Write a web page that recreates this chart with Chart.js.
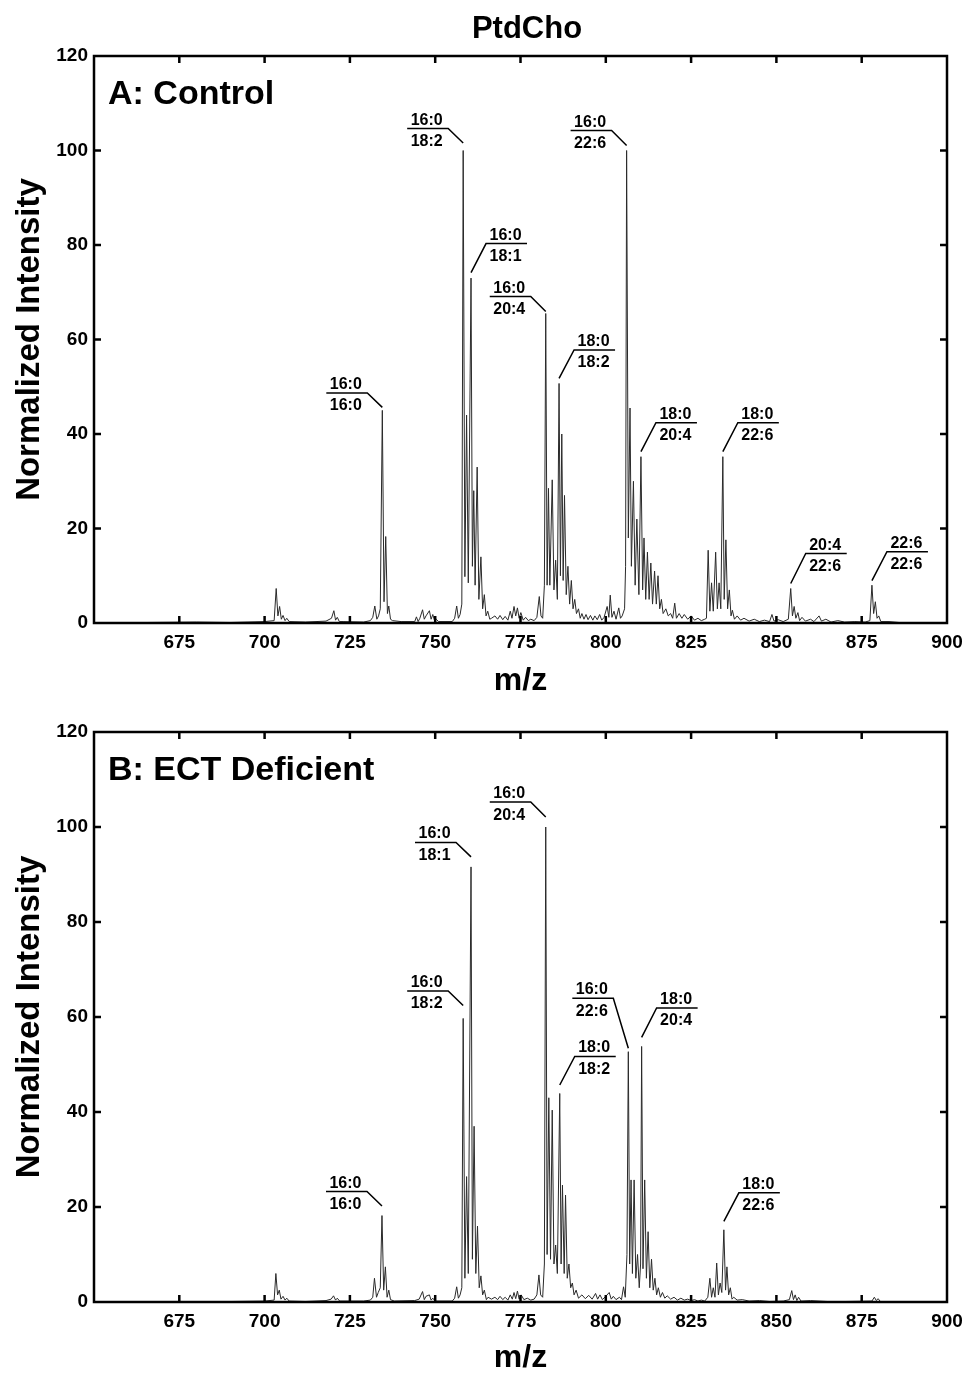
<!DOCTYPE html>
<html>
<head>
<meta charset="utf-8">
<title>PtdCho</title>
<script src="https://cdn.jsdelivr.net/npm/chart.js@4.4.1/dist/chart.umd.min.js"></script>
<style>
  html, body { margin: 0; padding: 0; background: #fff; overflow: hidden; }
  #wrap { position: relative; width: 965px; height: 1373px; }
  canvas { position: absolute; left: 0; }
  #chartA { top: 0; }
  #chartB { top: 702px; }
</style>
</head>
<body>
<div id="wrap">
  <canvas id="chartA" width="965" height="700"></canvas>
  <canvas id="chartB" width="965" height="671"></canvas>
</div>
<script>
// spectrum A (control): [m/z, normalized intensity]
const spectrumA = [
  [650,0],[665,0.1],[680,0.2],[690,0.1],[700,0.3],[702.8,0.5],[703.4,7.3],[703.9,1.5],[704.4,3.5],[704.9,0.8],
  [705.4,1.6],[706.0,0.5],[706.5,1.0],[707.2,0.3],[712,0.2],[718,0.4],[719.6,1.0],[720.3,2.6],[720.8,0.6],[721.3,1.2],
  [721.9,0.3],[723,0.3],[729,0.2],[731,0.5],[731.7,1.2],[732.3,3.6],[732.9,0.8],[733.4,1.5],[733.9,3.0],[734.5,45],
  [735.0,4.5],[735.5,18.3],[736.0,2.0],[736.4,3.6],[736.9,0.8],[737.5,0.5],[740,0.3],[744,0.3],[744.5,1.3],[745.0,0.3],
  [745.5,1.0],[746.3,2.8],[746.8,0.8],[747.3,1.5],[748.3,2.6],[748.8,0.8],[749.3,1.8],[749.8,0.5],[750.3,0.8],[751,0.3],
  [755,0.3],[755.7,1.0],[756.3,3.6],[756.8,1.0],[757.3,1.8],[757.8,4.0],[758.2,100],[758.7,9.8],[759.2,44],[759.7,8.5],
  [760.5,73],[760.9,12],[761.3,28],[761.7,8],[762.3,33],[762.8,5],[763.4,14],[763.9,3],[764.4,6],[764.9,1.5],
  [765.4,2.5],[766.0,0.8],[766.5,1.0],[767.5,1.5],[768.3,0.8],[769.0,1.6],[769.8,0.7],[770.5,1.4],[771.3,0.6],[772.0,2.5],
  [772.5,1.0],[773.1,3.5],[773.6,1.5],[774.1,3.2],[774.6,1.0],[775.1,2.2],[775.8,0.6],[776.5,1.2],[777.3,0.5],[778.0,0.8],
  [779.0,0.5],[779.8,1.2],[780.5,5.6],[781.0,1.5],[781.5,1.0],[782.0,8],[782.4,65.5],[782.8,8],[783.2,28.5],[783.6,8],
  [784.3,30.3],[784.8,7],[785.3,13.3],[785.8,5],[786.3,50.7],[786.7,10],[787.1,40],[787.5,9],[787.9,27],[788.4,6],
  [788.9,12],[789.4,4],[789.9,9],[790.4,3],[790.9,5],[791.4,2],[792.0,3],[792.5,1.0],[793.0,2.0],[793.6,0.8],
  [794.2,1.8],[794.8,0.7],[795.5,1.6],[796.2,0.6],[796.8,1.5],[797.5,0.7],[798.2,1.8],[798.8,0.6],[799.5,1.2],[800.4,3.5],
  [800.9,1.2],[801.3,5.9],[801.8,1.2],[802.4,2.5],[803.0,0.8],[803.8,3.2],[804.3,1.0],[804.8,1.5],[805.5,3.0],[805.8,12],
  [806.1,100],[806.6,18],[807.1,45.5],[807.5,12],[808.1,30],[808.6,8],[809.1,22],[809.7,6],[810.3,35.2],[810.8,7],
  [811.2,18],[811.7,5],[812.2,15],[812.7,5],[813.2,12.7],[813.7,4],[814.3,11],[814.8,4],[815.3,10],[815.8,3],
  [816.3,5],[816.8,2],[817.6,3],[818.3,1.5],[819.0,2.0],[819.6,1.0],[820.2,4.2],[820.7,1.0],[821.5,2.0],[822.3,1.0],
  [823.0,1.8],[824.0,0.8],[825.0,1.5],[826.0,0.6],[827.0,1.0],[828.0,0.5],[829.0,0.8],[829.5,1.0],[830.0,15.4],[830.5,2.5],
  [831.0,8.5],[831.5,2.5],[832.2,15],[832.7,3],[833.2,8.5],[833.7,3],[834.3,35.2],[834.7,5],[835.2,17.6],[835.7,3],
  [836.2,7],[836.7,1.5],[837.1,2.7],[837.7,0.8],[838.5,1.5],[839.5,0.6],[840.5,1.0],[842.0,0.4],[843.5,0.8],[845.0,0.3],
  [846.5,0.6],[848.0,0.3],[848.7,1.8],[849.3,0.4],[850.5,0.7],[852.0,0.3],[853.5,0.8],[854.2,7.3],[854.7,1.5],[855.2,3.5],
  [855.7,1.0],[856.3,2.2],[856.8,0.5],[857.5,1.2],[858.5,0.4],[860.0,0.8],[861.0,0.3],[862.5,1.5],[863.2,0.4],[864.5,0.8],
  [866.0,0.2],[868.0,0.5],[870.0,0.2],[873.0,0.3],[876.0,0.2],[877.4,0.5],[878.0,8],[878.5,2],[879.0,4.5],[879.5,1.0],
  [880.0,1.5],[880.6,0.3],[883.0,0.3],[886.0,0.1],[890.0,0],[900,0]
];

// spectrum B (ECT deficient)
const spectrumB = [
  [650,0],[665,0.1],[680,0.1],[690,0.1],[700,0.2],[702.8,0.4],[703.3,6.0],[703.8,1.5],[704.3,2.5],[704.8,0.6],
  [705.4,1.2],[706.0,0.4],[706.5,0.8],[707.2,0.2],[712,0.1],[718,0.3],[719.5,0.6],[720.2,1.3],[720.8,0.4],[721.3,0.8],
  [722,0.2],[729,0.2],[731,0.4],[731.7,1.0],[732.2,5.0],[732.8,1.0],[733.3,2.0],[733.9,3.0],[734.4,18.2],[734.9,2.5],
  [735.4,7.4],[735.9,1.0],[736.4,2.5],[736.9,0.5],[738,0.2],[744,0.3],[745.3,0.6],[746.3,2.2],[746.8,0.5],[747.3,1.2],
  [748.3,1.5],[748.8,0.4],[749.3,0.8],[750,0.2],[755,0.2],[755.7,0.8],[756.3,3.2],[756.8,0.8],[757.3,1.5],[757.8,3.0],
  [758.2,59.7],[758.7,5],[759.2,26.4],[759.7,6],[760.5,91.6],[760.9,9],[761.4,37],[761.9,6],[762.4,16],[762.9,3],
  [763.4,5.5],[763.9,1.5],[764.4,2.5],[765.0,0.5],[765.5,1.0],[766.5,0.6],[767.5,1.0],[768.3,0.5],[769.0,1.2],[769.8,0.5],
  [770.5,1.0],[771.3,0.4],[772.0,1.5],[772.6,0.6],[773.1,2.0],[773.6,0.7],[774.1,2.3],[774.6,0.6],[775.2,1.5],[776.0,0.5],
  [777.0,0.8],[778.0,0.4],[779.0,0.6],[779.8,1.5],[780.4,5.7],[780.9,1.5],[781.5,1.0],[782.0,8],[782.4,100],[782.8,10],
  [783.3,43],[783.8,9],[784.3,40.4],[784.8,8],[785.3,12],[785.8,6],[786.5,43.9],[786.9,8],[787.3,24.6],[787.8,6],
  [788.2,22.5],[788.7,5],[789.2,8],[789.7,3],[790.2,4],[790.7,1.5],[791.3,2.5],[792.0,0.8],[793.0,1.5],[794.0,0.7],
  [795.0,1.4],[796.0,0.6],[797.0,1.8],[797.6,0.6],[798.3,1.5],[799.0,0.5],[800.0,1.2],[801.0,2.0],[801.6,0.6],[802.2,1.2],
  [803.0,0.5],[804.0,1.0],[804.6,0.5],[805.2,3.2],[805.7,1.0],[806.2,10],[806.6,52.7],[807.0,8],[807.4,25.7],[807.8,6],
  [808.3,25.7],[808.8,5],[809.3,10],[809.8,3],[810.2,8],[810.5,53.8],[810.9,7],[811.4,25.7],[811.9,5],[812.4,14.8],
  [812.9,3],[813.4,9],[813.9,2.5],[814.4,5],[814.9,1.5],[815.4,3],[816.0,1.0],[816.6,2.0],[817.3,0.8],[818.0,1.3],
  [819.0,0.6],[820.0,1.0],[821.0,0.4],[822.0,0.8],[823.0,0.4],[824.0,0.6],[825.0,0.3],[826.0,0.5],[827.0,0.2],[828.0,0.4],
  [829.0,0.2],[829.9,1.0],[830.5,5],[831.0,1.0],[831.5,3],[832.0,1.0],[832.5,8.2],[833.0,1.5],[833.5,4],[834.0,2],
  [834.6,15.2],[835.1,2.5],[835.5,7.4],[836.0,1.5],[836.5,3],[837.0,0.6],[837.5,1.0],[838.5,0.4],[840.0,0.5],[842.0,0.2],
  [845.0,0.3],[848.0,0.1],[852.0,0.2],[853.8,0.5],[854.5,2.4],[855.0,0.5],[855.5,1.5],[856.0,0.3],[856.5,1.0],[857.2,0.2],
  [860.0,0.3],[865.0,0.1],[870.0,0.1],[878.0,0.2],[878.7,1.0],[879.3,0.3],[879.8,0.7],[880.5,0.1],[890,0],[900,0]
];

// labelled peaks: m/z and the two acyl chains
const peakMzA  = [734.5, 758.2, 760.5, 782.4, 786.3, 806.1, 810.3, 834.3, 854.2, 878.0];
const chainTopA = ['16:0', '16:0', '16:0', '16:0', '18:0', '16:0', '18:0', '18:0', '20:4', '22:6'];
const chainBotA = ['16:0', '18:2', '18:1', '20:4', '18:2', '22:6', '20:4', '22:6', '22:6', '22:6'];

const peakMzB  = [734.4, 758.2, 760.5, 782.4, 786.5, 806.6, 810.5, 834.6];
const chainTopB = ['16:0', '16:0', '16:0', '16:0', '18:0', '16:0', '18:0', '18:0'];
const chainBotB = ['16:0', '18:2', '18:1', '20:4', '18:2', '22:6', '20:4', '22:6'];

const xTicks = [675, 700, 725, 750, 775, 800, 825, 850, 875, 900];

// leader line look for each label (side of the peak, gap above peak, rise of the leader)
const leaderA = [
  {side: 'L', gap: 3, rise: 14.5}, {side: 'L', gap: 7.5, rise: 14.5}, {side: 'R', gap: 5.5, rise: 29},
  {side: 'L', gap: 2, rise: 15}, {side: 'R', gap: 5, rise: 28.5}, {side: 'L', gap: 5, rise: 15},
  {side: 'R', gap: 5, rise: 29}, {side: 'R', gap: 5, rise: 29}, {side: 'R', gap: 5, rise: 30},
  {side: 'R', gap: 4.5, rise: 29}
];
const leaderB = [
  {side: 'L', gap: 9.5, rise: 14.5}, {side: 'L', gap: 13, rise: 14.5}, {side: 'L', gap: 10, rise: 14.5},
  {side: 'L', gap: 10, rise: 15}, {side: 'R', gap: 8.5, rise: 28.5}, {side: 'L', gap: 3.5, rise: 50},
  {side: 'R', gap: 9, rise: 29.5}, {side: 'R', gap: 8.5, rise: 28.5}
];

const FONT = '"Liberation Sans", Arial, Helvetica, sans-serif';
Chart.defaults.font.family = FONT;
Chart.defaults.color = '#000';

// box round the plot with inward ticks on all four sides
const framePlugin = {
  id: 'frame',
  afterDraw(chart) {
    const ctx = chart.ctx, a = chart.chartArea;
    const xs = chart.scales.x, ys = chart.scales.y;
    ctx.save();
    ctx.strokeStyle = '#000';
    ctx.lineWidth = 2.5;
    ctx.strokeRect(a.left, a.top, a.right - a.left, a.bottom - a.top);
    ctx.beginPath();
    xs.ticks.forEach(t => {
      if (t.value <= xs.min || t.value >= xs.max) return;
      const p = xs.getPixelForValue(t.value);
      ctx.moveTo(p, a.bottom); ctx.lineTo(p, a.bottom - 7);
      ctx.moveTo(p, a.top); ctx.lineTo(p, a.top + 7);
    });
    ys.ticks.forEach(t => {
      if (t.value <= ys.min || t.value >= ys.max) return;
      const p = ys.getPixelForValue(t.value);
      ctx.moveTo(a.left, p); ctx.lineTo(a.left + 7, p);
      ctx.moveTo(a.right, p); ctx.lineTo(a.right - 7, p);
    });
    ctx.stroke();
    ctx.restore();
  }
};

function textPlugin(panelLabel, title) {
  return {
    id: 'panelText',
    afterDraw(chart) {
      const ctx = chart.ctx, a = chart.chartArea;
      ctx.save();
      ctx.fillStyle = '#000';
      ctx.textBaseline = 'middle';
      ctx.font = 'bold 34px ' + FONT;
      ctx.textAlign = 'left';
      ctx.fillText(panelLabel, a.left + 14, a.top + 39);
      if (title) {
        ctx.font = 'bold 31px ' + FONT;
        ctx.textAlign = 'center';
        ctx.fillText(title, 527, 29);
      }
      ctx.restore();
    }
  };
}

function peakLabelPlugin(spectrum, mzList, tops, bots, look) {
  return {
    id: 'peakLabels',
    afterDatasetsDraw(chart) {
      const ctx = chart.ctx, xs = chart.scales.x, ys = chart.scales.y;
      ctx.save();
      ctx.strokeStyle = '#000';
      ctx.fillStyle = '#000';
      ctx.lineWidth = 1.5;
      ctx.font = 'bold 16px ' + FONT;
      ctx.textAlign = 'center';
      ctx.textBaseline = 'alphabetic';
      mzList.forEach((mz, i) => {
        const pt = spectrum.find(p => p[0] === mz);
        const px = xs.getPixelForValue(mz);
        const py = ys.getPixelForValue(pt[1]);
        const st = look[i];
        const y0 = py - st.gap;
        const y1 = y0 - st.rise;
        let x1, xEnd;
        if (st.side === 'L') { x1 = px - 15; xEnd = x1 - 41; }
        else { x1 = px + 15; xEnd = x1 + 41; }
        ctx.beginPath();
        ctx.moveTo(px, y0);
        ctx.lineTo(x1, y1);
        ctx.lineTo(xEnd, y1);
        ctx.stroke();
        const cx = (x1 + xEnd) / 2 - 1;
        ctx.fillText(tops[i], cx, y1 - 4);
        ctx.fillText(bots[i], cx, y1 + 17.5);
      });
      ctx.restore();
    }
  };
}

function drawPanel(id, spectrum, panelLabel, title, mzList, tops, bots, look, padTop, xHeight, xTitleLH) {
  new Chart(document.getElementById(id), {
    type: 'line',
    data: {
      datasets: [{
        data: spectrum.map(p => ({x: p[0], y: p[1]})),
        borderColor: '#2a2a2a',
        borderWidth: 1,
        pointRadius: 0,
        tension: 0,
        fill: false
      }]
    },
    options: {
      responsive: false,
      animation: false,
      layout: { padding: { left: 0, right: 18, top: padTop, bottom: 0 } },
      plugins: { legend: { display: false }, tooltip: { enabled: false } },
      scales: {
        x: {
          type: 'linear',
          min: 650,
          max: 900,
          afterBuildTicks: s => { s.ticks = [650].concat(xTicks).map(v => ({value: v})); },
          ticks: {
            callback: v => (v === 650 ? '' : v),
            font: { size: 19, weight: 'bold' },
            color: '#000',
            padding: 8,
            maxRotation: 0,
            autoSkip: false
          },
          grid: { display: false, drawTicks: false },
          border: { display: false },
          title: {
            display: true,
            text: 'm/z',
            color: '#000',
            font: { size: 32, weight: 'bold', lineHeight: xTitleLH },
            padding: { top: 0, bottom: 0 }
          },
          afterFit: s => { s.height = xHeight; s.paddingLeft = 0; s.paddingRight = 0; }
        },
        y: {
          min: 0,
          max: 120,
          ticks: {
            stepSize: 20,
            font: { size: 19, weight: 'bold' },
            color: '#000',
            padding: 6
          },
          grid: { display: false, drawTicks: false },
          border: { display: false },
          title: {
            display: true,
            text: 'Normalized Intensity',
            color: '#000',
            font: { size: 33, weight: 'bold' },
            padding: { top: 10, bottom: 0 }
          },
          afterFit: s => { s.width = 94; s.paddingTop = 0; s.paddingBottom = 0; }
        }
      }
    },
    plugins: [peakLabelPlugin(spectrum, mzList, tops, bots, look), framePlugin, textPlugin(panelLabel, title)]
  });
}

drawPanel('chartA', spectrumA, 'A: Control', 'PtdCho', peakMzA, chainTopA, chainBotA, leaderA, 56, 77, 1.15);
drawPanel('chartB', spectrumB, 'B: ECT Deficient', null, peakMzB, chainTopB, chainBotB, leaderB, 30, 71, 0.95);
</script>
</body>
</html>
